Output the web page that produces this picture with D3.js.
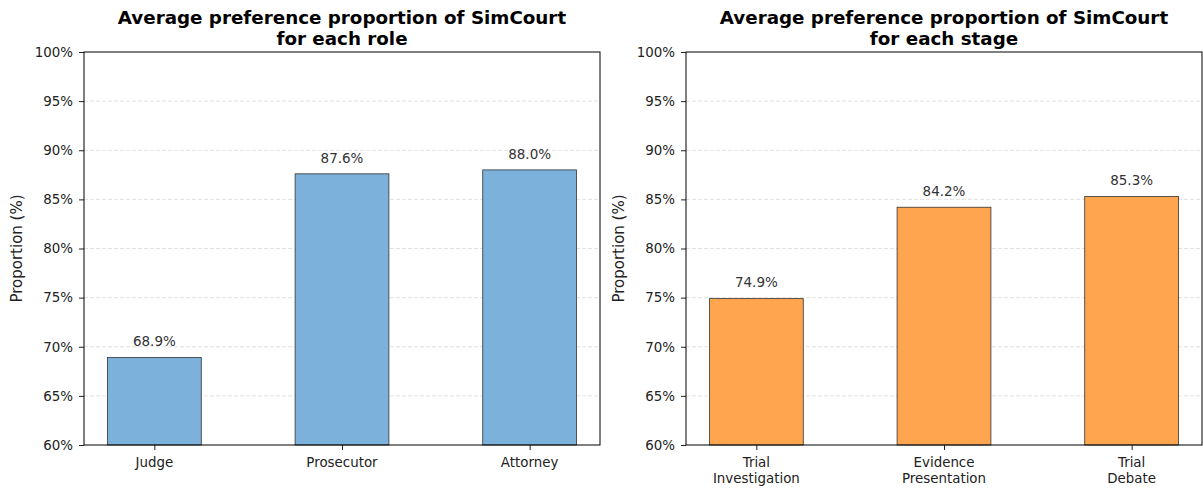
<!DOCTYPE html>
<html>
<head>
<meta charset="utf-8">
<script src="https://cdn.jsdelivr.net/npm/d3@7"></script>
<style>
  body { margin: 0; background: #fff; }
  svg { font-family: "DejaVu Sans", sans-serif; }
</style>
</head>
<body>
<svg id="chart" width="1203" height="488"></svg>
<script>
const roleLabels = ['Judge', 'Prosecutor', 'Attorney'];
const roleValues = [68.9, 87.6, 88.0];
const stageLabels = [['Trial', 'Investigation'], ['Evidence', 'Presentation'], ['Trial', 'Debate']];
const stageValues = [74.9, 84.2, 85.3];
const yTicks = [60, 65, 70, 75, 80, 85, 90, 95, 100];

const svg = d3.select('#chart');

function drawPanel(left, title, labels, values, fill) {
  const width = 516, top = 52, height = 393;
  const g = svg.append('g').attr('transform', `translate(${left},${top})`);

  // bars are 0.5 wide, x limits padded by 5% like matplotlib
  const x = d3.scaleLinear().domain([-0.375, labels.length - 1 + 0.375]).range([0, width]);
  const y = d3.scaleLinear().domain([60, 100]).range([height, 0]);

  // grid
  g.selectAll('.grid')
    .data(yTicks.filter(t => t > 60 && t < 100))
    .enter().append('line')
    .attr('x1', 0).attr('x2', width)
    .attr('y1', d => y(d)).attr('y2', d => y(d))
    .attr('stroke', '#d9d9d9')
    .attr('stroke-width', 0.8)
    .attr('stroke-dasharray', '4,2');

  // bars
  g.selectAll('.bar')
    .data(values)
    .enter().append('rect')
    .attr('x', (d, i) => x(i - 0.25))
    .attr('width', x(0.5) - x(0))
    .attr('y', d => y(d))
    .attr('height', d => height - y(d))
    .attr('fill', fill)
    .attr('stroke', '#333')
    .attr('stroke-width', 0.8);

  // value labels
  g.selectAll('.val')
    .data(values)
    .enter().append('text')
    .attr('x', (d, i) => x(i))
    .attr('y', d => y(d + 1) - 1.5)
    .attr('text-anchor', 'middle')
    .attr('font-size', 13.5)
    .attr('fill', '#333')
    .text(d => d.toFixed(1) + '%');

  // y axis
  const yAxis = g.append('g')
    .call(d3.axisLeft(y).tickValues(yTicks).tickFormat(d => d + '%').tickSize(5).tickPadding(6));
  yAxis.select('.domain').remove();
  yAxis.selectAll('text').attr('font-size', 13.4).attr('fill', '#222').attr('font-family', '"DejaVu Sans", sans-serif');
  yAxis.selectAll('line').attr('stroke', '#222');

  // x axis
  const xAxis = g.append('g')
    .attr('transform', `translate(0,${height})`)
    .call(d3.axisBottom(x).tickValues(d3.range(labels.length)).tickFormat('').tickSize(5));
  xAxis.select('.domain').remove();
  xAxis.selectAll('line').attr('stroke', '#222');

  labels.forEach((lab, i) => {
    const lines = Array.isArray(lab) ? lab : [lab];
    const t = g.append('text')
      .attr('x', x(i))
      .attr('y', height + 22)
      .attr('text-anchor', 'middle')
      .attr('font-size', 13.4)
      .attr('fill', '#222');
    lines.forEach((l, k) => {
      t.append('tspan').attr('x', x(i)).attr('dy', k === 0 ? 0 : 15.5).text(l);
    });
  });

  // frame
  g.append('rect')
    .attr('width', width).attr('height', height)
    .attr('fill', 'none').attr('stroke', '#000').attr('stroke-width', 1);

  // y label
  g.append('text')
    .attr('transform', `translate(${-62},${height / 2}) rotate(-90)`)
    .attr('text-anchor', 'middle')
    .attr('font-size', 15)
    .attr('fill', '#222')
    .text('Proportion (%)');

  // title
  const tt = g.append('text')
    .attr('x', width / 2)
    .attr('y', -28)
    .attr('text-anchor', 'middle')
    .attr('font-size', 18.3)
    .attr('font-weight', 'bold')
    .attr('fill', '#000');
  title.forEach((l, k) => {
    tt.append('tspan').attr('x', width / 2).attr('dy', k === 0 ? 0 : 21).text(l);
  });
}

drawPanel(84, ['Average preference proportion of SimCourt', 'for each role'], roleLabels, roleValues, '#7bb1da');
drawPanel(686, ['Average preference proportion of SimCourt', 'for each stage'], stageLabels, stageValues, '#ffa54f');
</script>
</body>
</html>
